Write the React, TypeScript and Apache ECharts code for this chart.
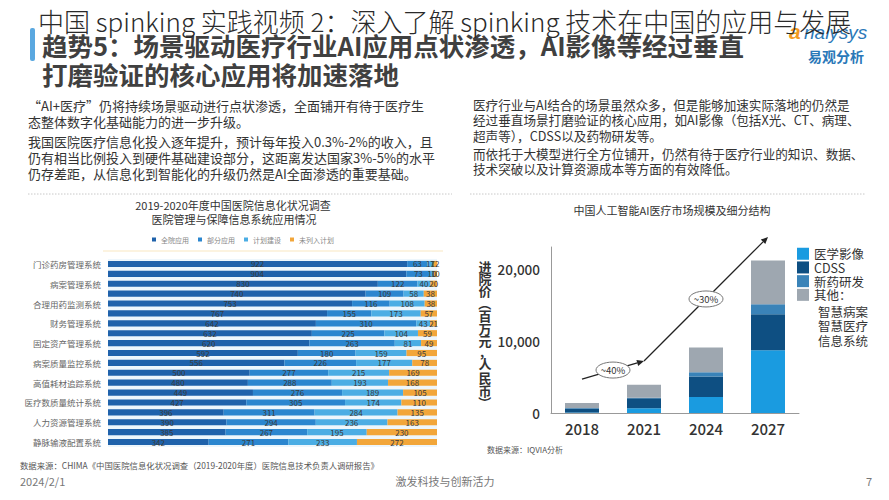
import React, { useEffect, useRef } from 'react';
import * as echarts from 'echarts';

const FONT = '"Noto Sans CJK SC", "Noto Sans", sans-serif';

// ---------- left chart data ----------
const systemNames = [
  '门诊药房管理系统', '', '病案管理系统', '', '合理用药监测系统', '', '财务管理系统', '',
  '固定资产管理系统', '', '病案质量监控系统', '', '高值耗材追踪系统', '', '医疗数质量统计系统', '',
  '人力资源管理系统', '', '静脉输液配置系统',
];
const statusNames = ['全院应用', '部分应用', '计划建设', '未列入计划'];
const fullUse = [922, 904, 830, 740, 753, 767, 642, 632, 620, 592, 556, 500, 480, 449, 427, 396, 390, 385, 342];
const partialUse = [63, 73, 122, 109, 116, 155, 310, 225, 263, 180, 226, 277, 288, 276, 305, 311, 294, 267, 271];
const plannedUse = [17, 10, 40, 58, 108, 173, 43, 104, 81, 159, 177, 215, 193, 189, 174, 284, 236, 195, 233];
const notPlanned = [12, 10, 20, 38, 38, 57, 21, 59, 49, 95, 78, 169, 168, 105, 110, 135, 163, 230, 272];

// ---------- right chart data ----------
const years = ['2018', '2021', '2024', '2027'];
const segmentNames = ['医学影像', 'CDSS', '新药研发', '其他'];
const imaging = [80, 650, 2200, 8700];
const cdss = [560, 1380, 2870, 4980];
const drugRnD = [60, 100, 560, 1400];
const others = [700, 1800, 3440, 6040];
const yTicks = [0, 10000, 20000];
const trendPoints: [string, number][] = [['2018', 4700], ['2021', 7200], ['2027', 24400]];
const growthLabels = ['~40%', '~30%'];
const yAxisNameChars = ['进', '院', '价', '（', '百', '万', '元', '，', '人', '民', '币', '）'];
const otherDetail = ['智慧病案', '智慧医疗', '信息系统'];

const leftColors = ['#1f62ab', '#2b86cf', '#4badE4', '#f2a63a'];
const rightColors = ['#1a9be0', '#0e4f82', '#3a83b8', '#9ea7b0'];

function txt(text: string, x: number, y: number, size: number, o: any = {}) {
  return {
    type: 'text', x, y, silent: true, rotation: o.rotation || 0,
    style: {
      text, fontSize: size, fontFamily: o.family || FONT, fill: o.color || '#333',
      fontWeight: o.weight || 'normal', fontStyle: o.style || 'normal',
      align: o.align || 'left', textAlign: o.align || 'left',
      verticalAlign: 'middle', textVerticalAlign: 'middle',
    },
  };
}

export default function App() {
  const ref = useRef<HTMLDivElement>(null);
  useEffect(() => {
    const chart = echarts.init(ref.current!, null, { renderer: 'svg' });
    const leftRaw = [fullUse, partialUse, plannedUse, notPlanned];
    const totals = fullUse.map((_, i) => leftRaw.reduce((s, a) => s + a[i], 0));
    const rightRaw = [imaging, cdss, drugRnD, others];

    const option: any = {
      animation: false,
      backgroundColor: '#fff',
      textStyle: { fontFamily: FONT },
      legend: [
        {
          data: statusNames, left: 152, top: 236, padding: 0, itemWidth: 4, itemHeight: 4, itemGap: 9,
          icon: 'rect', selectedMode: false,
          textStyle: { fontSize: 7, color: '#888', fontFamily: FONT },
        },
        {
          data: segmentNames, orient: 'vertical', left: 797, top: 247.5, padding: 0,
          itemWidth: 12, itemHeight: 12, itemGap: 1.2, icon: 'rect', selectedMode: false,
          formatter: (n: string) => (n === '其他' ? '其他：' : n),
          textStyle: { fontSize: 12.5, color: '#333', fontFamily: FONT },
        },
      ],
      grid: [
        { left: 108, width: 329, top: 259, height: 188, show: true, backgroundColor: '#edf6fc', borderWidth: 0 },
        { left: 551, width: 248, top: 247, height: 166 },
      ],
      xAxis: [
        { gridIndex: 0, type: 'value', min: 0, max: 100, show: false },
        {
          gridIndex: 1, type: 'category', data: years,
          axisLine: { lineStyle: { color: '#999' } }, axisTick: { show: false },
          axisLabel: { fontSize: 15, color: '#333', margin: 8, fontFamily: FONT, fontWeight: 500 },
        },
      ],
      yAxis: [
        {
          gridIndex: 0, type: 'category', data: systemNames, inverse: true,
          axisLine: { show: false }, axisTick: { show: false },
          axisLabel: { interval: 0, fontSize: 8.5, color: '#666', margin: 7 },
        },
        {
          gridIndex: 1, type: 'value', min: 0, max: 23000, interval: 10000,
          axisLine: { show: true, lineStyle: { color: '#999' } }, axisTick: { show: false },
          splitLine: { show: false },
          axisLabel: {
            fontSize: 13.5, color: '#333', margin: 11, showMaxLabel: false, fontWeight: 500,
            formatter: (v: number) => (yTicks.includes(v) ? v.toLocaleString('en-US') : ''),
          },
        },
      ],
      series: [
        ...leftRaw.map((arr, si) => ({
          name: statusNames[si], type: 'bar', stack: 'left', xAxisIndex: 0, yAxisIndex: 0,
          barCategoryGap: '38%',
          itemStyle: { color: leftColors[si] },
          data: arr.map((v, i) => (v / totals[i]) * 100),
          label: {
            show: true, position: 'inside', fontSize: 8, color: '#3a3a3a',
            formatter: (p: any) => String(arr[p.dataIndex]),
          },
        })),
        ...rightRaw.map((arr, si) => ({
          name: segmentNames[si], type: 'bar', stack: 'right', xAxisIndex: 1, yAxisIndex: 1,
          barWidth: 34, itemStyle: { color: rightColors[si] }, data: arr,
        })),
      ],
    };
    chart.setOption(option);

    // trend arrows anchored to data coordinates
    const pts = trendPoints.map(([c, v]) =>
      chart.convertToPixel({ gridIndex: 1 } as any, [years.indexOf(c), v]) as number[]);
    const arrowEls: any[] = [];
    for (let k = 0; k < pts.length - 1; k++) {
      const [x1, y1] = pts[k];
      const [x2, y2] = pts[k + 1];
      const dx = x2 - x1, dy = y2 - y1;
      const len = Math.hypot(dx, dy);
      const ux = dx / len, uy = dy / len;
      const L = 7, W = 3.2;
      const bx = x2 - ux * L, by = y2 - uy * L;
      arrowEls.push({
        type: 'line', silent: true,
        shape: { x1, y1, x2: bx, y2: by },
        style: { stroke: '#222', lineWidth: 1.3 },
      });
      arrowEls.push({
        type: 'polygon', silent: true,
        shape: { points: [[x2, y2], [bx - uy * W, by + ux * W], [bx + uy * W, by - ux * W]] },
        style: { fill: '#222' },
      });
      const mx = (x1 + x2) / 2, my = (y1 + y2) / 2;
      arrowEls.push({
        type: 'ellipse', silent: true, shape: { cx: mx, cy: my, rx: 17, ry: 8 },
        style: { fill: '#fff', stroke: '#777', lineWidth: 1 },
      });
      arrowEls.push(txt(growthLabels[k], mx, my, 9.5, { align: 'center', color: '#333' }));
    }

    const paraL = [
      '“AI+医疗”仍将持续场景驱动进行点状渗透，全面铺开有待于医疗生',
      '态整体数字化基础能力的进一步升级。',
      '我国医院医疗信息化投入逐年提升，预计每年投入0.3%-2%的收入，且',
      '仍有相当比例投入到硬件基础建设部分，这距离发达国家3%-5%的水平',
      '仍存差距，从信息化到智能化的升级仍然是AI全面渗透的重要基础。',
    ];
    const paraLY = [105, 121, 141, 157, 173];
    const paraR = [
      '医疗行业与AI结合的场景虽然众多，但是能够加速实际落地的仍然是',
      '经过垂直场景打磨验证的核心应用，如AI影像（包括X光、CT、病理、',
      '超声等），CDSS以及药物研发等。',
      '而依托于大模型进行全方位铺开，仍然有待于医疗行业的知识、数据、',
      '技术突破以及计算资源成本等方面的有效降低。',
    ];
    const paraRY = [104, 119, 135, 153, 168];
    const yNameY = [266, 278, 290, 304, 315, 328, 340, 351, 363, 377, 390, 403];
    const detailY = [311.5, 325.8, 340];

    const staticEls: any[] = [
      { type: 'rect', silent: true, shape: { x: 30, y: 28, width: 5, height: 33, r: 2 }, style: { fill: '#5aa8e0' } },
      txt('趋势5：场景驱动医疗行业AI应用点状渗透，AI影像等经过垂直', 42, 44, 25.5, { weight: 'bold', color: '#404040' }),
      txt('打磨验证的核心应用将加速落地', 42, 73, 25.5, { weight: 'bold', color: '#404040' }),
      txt('a', 789, 31, 21, { color: '#f39a1e', style: 'italic', weight: 'bold', family: 'Liberation Sans' }),
      txt('nalysys', 804, 32, 19, { color: '#2a78b8', style: 'italic', family: 'Liberation Sans' }),
      txt('易观分析', 808, 56, 14, { color: '#2a78b8', weight: 'bold' }),
      txt('中国 spinking 实践视频 2：深入了解 spinking 技术在中国的应用与发展', 38, 20, 26, { weight: 300, color: '#2a2a2a' }),
      ...paraL.map((t, i) => txt(t, 28, paraLY[i], 13, { color: '#333' })),
      ...paraR.map((t, i) => txt(t, 473, paraRY[i], 12.6, { color: '#333' })),
      { type: 'line', silent: true, shape: { x1: 28, y1: 194, x2: 452, y2: 194 }, style: { stroke: '#c8c8c8', lineWidth: 1, lineDash: [1.5, 1.5] } },
      { type: 'line', silent: true, shape: { x1: 470, y1: 194, x2: 865, y2: 194 }, style: { stroke: '#c8c8c8', lineWidth: 1, lineDash: [1.5, 1.5] } },
      { type: 'line', silent: true, shape: { x1: 103, y1: 251, x2: 443, y2: 251 }, style: { stroke: '#fbefd6', lineWidth: 1.5 } },
      txt('2019-2020年度中国医院信息化状况调查', 233, 205, 11, { align: 'center', color: '#333' }),
      txt('医院管理与保障信息系统应用情况', 234, 219, 11, { align: 'center', color: '#333' }),
      txt('中国人工智能AI医疗市场规模及细分结构', 672, 210, 11, { align: 'center', color: '#333' }),
      ...yAxisNameChars.map((c, i) => txt(c, 485, yNameY[i], 13, {
        align: 'center', color: '#333', weight: 'bold',
        rotation: c === '（' || c === '）' ? -Math.PI / 2 : 0,
      })),
      ...otherDetail.map((t, i) => txt(t, 818, detailY[i], 12.5, { color: '#333' })),
      txt('数据来源：IQVIA分析', 487, 449, 8, { color: '#555' }),
      txt('数据来源：CHIMA《中国医院信息化状况调查（2019-2020年度）医院信息技术负责人调研报告》', 20, 465, 8.4, { color: '#555' }),
      txt('2024/2/1', 20, 481, 11, { color: '#777' }),
      txt('激发科技与创新活力', 445, 481, 11, { color: '#777', align: 'center' }),
      txt('7', 866, 481, 11, { color: '#777' }),
    ];

    chart.setOption({ graphic: [...staticEls, ...arrowEls] });
    return () => chart.dispose();
  }, []);
  return (
    <div
      ref={ref}
      style={{ position: 'fixed', left: 0, top: 0, width: 889, height: 500, background: '#fff' }}
    />
  );
}
